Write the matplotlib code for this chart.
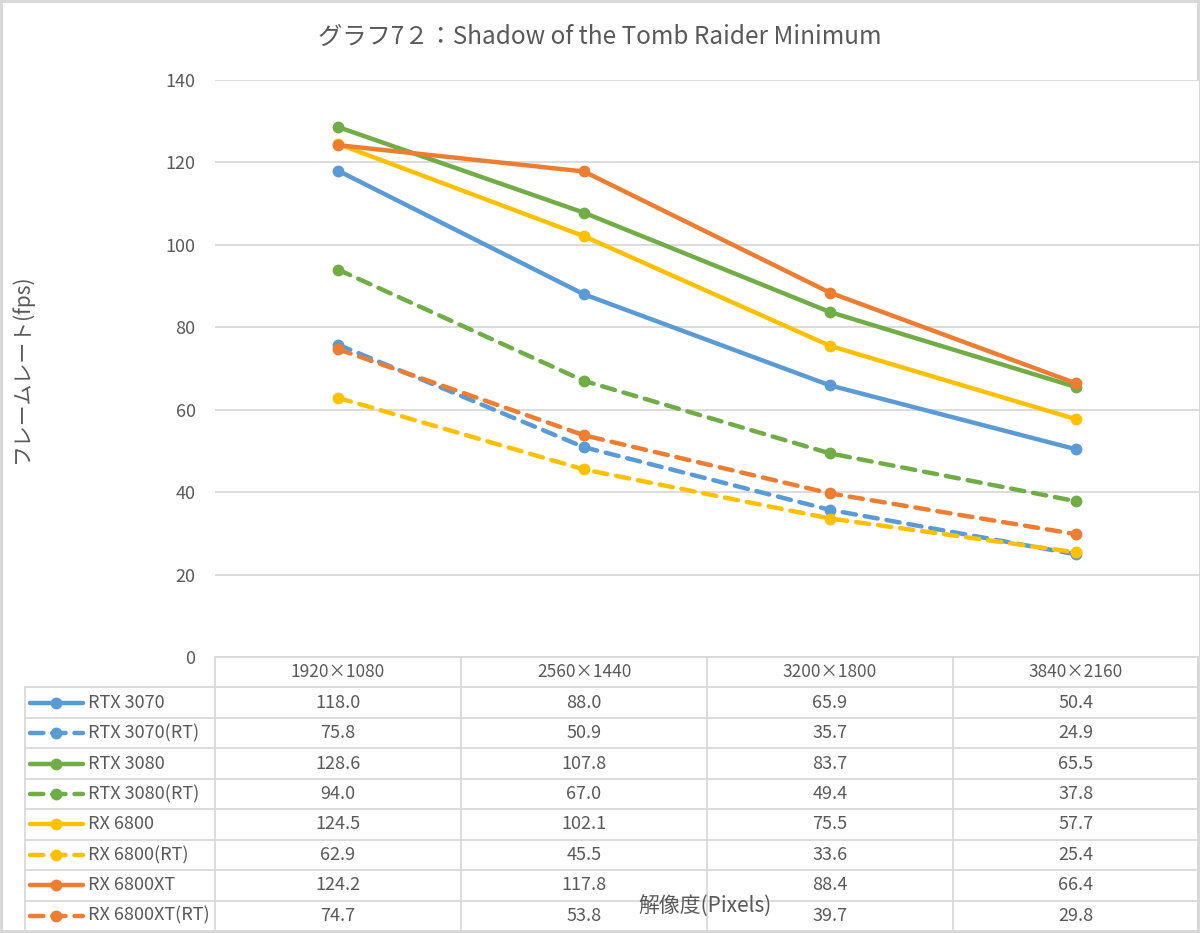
import matplotlib
matplotlib.use('Agg')
from matplotlib import pyplot as plt
from matplotlib.lines import Line2D

plt.rcParams['font.family'] = ['Noto Sans CJK JP', 'DejaVu Sans']

resolutions = ['1920×1080', '2560×1440', '3200×1800', '3840×2160']
series_names = ['RTX 3070', 'RTX 3070(RT)', 'RTX 3080', 'RTX 3080(RT)',
                'RX 6800', 'RX 6800(RT)', 'RX 6800XT', 'RX 6800XT(RT)']
rtx3070 = [118.0, 88.0, 65.9, 50.4]
rtx3070_rt = [75.8, 50.9, 35.7, 24.9]
rtx3080 = [128.6, 107.8, 83.7, 65.5]
rtx3080_rt = [94.0, 67.0, 49.4, 37.8]
rx6800 = [124.5, 102.1, 75.5, 57.7]
rx6800_rt = [62.9, 45.5, 33.6, 25.4]
rx6800xt = [124.2, 117.8, 88.4, 66.4]
rx6800xt_rt = [74.7, 53.8, 39.7, 29.8]
series_values = [rtx3070, rtx3070_rt, rtx3080, rtx3080_rt,
                 rx6800, rx6800_rt, rx6800xt, rx6800xt_rt]

colors = ['#5b9bd5', '#5b9bd5', '#70ad47', '#70ad47',
          '#ffc000', '#ffc000', '#ed7d31', '#ed7d31']
dashed = [False, True, False, True, False, True, False, True]

TEXT = '#595959'
GRID = '#d9d9d9'
W, H = 1200, 933


def px_box(x0, y0, x1, y1):
    # pixel box (top-left origin) -> figure fraction rect
    return [x0 / W, 1 - y1 / H, (x1 - x0) / W, (y1 - y0) / H]


fig = plt.figure(figsize=(12, 9.33), dpi=100)
fig.patch.set_edgecolor(GRID)
fig.patch.set_linewidth(3)

# main plot
ax = fig.add_axes(px_box(215, 80, 1199, 657))
x = list(range(len(resolutions)))
for name, vals, c, d in zip(series_names, series_values, colors, dashed):
    ls = (0, (3, 2)) if d else '-'
    ax.plot(x, vals, color=c, lw=3.2, ls=ls, marker='o', ms=7.5,
            solid_capstyle='round', dash_capstyle='round', label=name)
ax.set_xlim(-0.5, 3.5)
ax.set_ylim(0, 140)
ax.set_yticks(range(0, 141, 20))
ax.set_xticks([])
ax.yaxis.grid(True, color=GRID, lw=1.3)
ax.set_axisbelow(True)
for s in ax.spines.values():
    s.set_visible(False)
ax.tick_params(axis='y', length=0, pad=14, labelsize=13, labelcolor=TEXT)

fig.text(0.5, 1 - 37 / H, 'グラフ7２：Shadow of the Tomb Raider Minimum',
         ha='center', va='center', fontsize=17.5, color=TEXT)
fig.text(22 / W, 1 - 368 / H, 'フレームレート(fps)', rotation=90,
         ha='center', va='center', fontsize=15, color=TEXT)

# data table
left = -0.5 - 190 / 246
tab = fig.add_axes(px_box(25, 657, 1199, 931))
tab.set_xlim(left, 3.5)
tab.set_ylim(len(series_names) + 1, 0)
tab.axis('off')

lk = dict(color=GRID, lw=1.3, clip_on=False)
tab.add_line(Line2D([-0.5, 3.5], [0, 0], **lk))
for r in range(1, len(series_names) + 2):
    tab.add_line(Line2D([left, 3.5], [r, r], **lk))
tab.add_line(Line2D([left, left], [1, len(series_names) + 1], **lk))
for i in range(len(resolutions) + 1):
    tab.add_line(Line2D([i - 0.5, i - 0.5], [0, len(series_names) + 1], **lk))

for i, res in enumerate(resolutions):
    tab.text(i, 0.5, res, ha='center', va='center', fontsize=12.5, color=TEXT)

for r, (name, vals, c, d) in enumerate(zip(series_names, series_values, colors, dashed)):
    yy = r + 1.5
    ls = (0, (3, 2)) if d else '-'
    tab.add_line(Line2D([left + 5 / 246, left + 58 / 246], [yy, yy], color=c,
                        lw=3.2, ls=ls, dash_capstyle='round',
                        solid_capstyle='round'))
    tab.plot([left + 31 / 246], [yy], marker='o', ms=7.5, color=c)
    tab.text(left + 63 / 246, yy, name, ha='left', va='center', fontsize=13,
             color=TEXT)
    for i, v in enumerate(vals):
        tab.text(i, yy, f'{v:.1f}', ha='center', va='center', fontsize=13,
                 color=TEXT)

fig.text(705 / W, 1 - 907 / H, '解像度(Pixels)', ha='center', va='center',
         fontsize=15, color=TEXT)

fig.savefig('out.png', dpi=100)
